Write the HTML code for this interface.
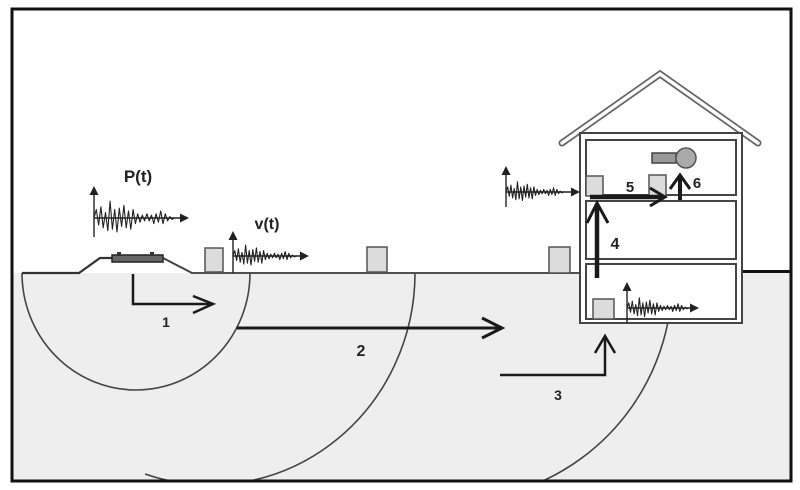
<!DOCTYPE html>
<html><head><meta charset="utf-8"><style>
html,body{margin:0;padding:0;background:#fff;}
svg{display:block;}
text{font-family:"Liberation Sans",Arial,sans-serif;font-weight:bold;fill:#222;}
</style></head><body>
<svg width="800" height="490" viewBox="0 0 800 490" xmlns="http://www.w3.org/2000/svg">
<defs>
<clipPath id="fr"><rect x="13" y="10" width="777" height="470"/></clipPath>
</defs>
<rect x="0" y="0" width="800" height="490" fill="#fff"/>
<g clip-path="url(#fr)">
<rect x="13" y="273" width="777" height="210" fill="#eeeeee"/>
<!-- arcs -->
<g fill="none" stroke="#444" stroke-width="1.6">
<path d="M22 273 A114 117 0 0 0 250 273"/>
<path d="M415 273 A205 212 0 0 1 145 474"/>
<path d="M672 273 A222 222 0 0 1 520 490"/>
</g>
</g>
<!-- ground line + embankment -->
<polyline points="22,273 79,273 100,258 112,258" fill="none" stroke="#333" stroke-width="2.2"/>
<polyline points="163,258 192,273 580,273" fill="none" stroke="#444" stroke-width="2"/>
<line x1="192" y1="273" x2="580" y2="273" stroke="#555" stroke-width="1.6"/>
<rect x="112" y="255" width="51" height="7" fill="#666" stroke="#222" stroke-width="1.5"/>
<rect x="117" y="252" width="4" height="3" fill="#333"/>
<rect x="150" y="252" width="4" height="3" fill="#333"/>
<line x1="742" y1="271.5" x2="790" y2="271.5" stroke="#111" stroke-width="3"/>
<!-- small buildings -->
<g fill="#dcdcdc" stroke="#555" stroke-width="1.5">
<rect x="205" y="248" width="18" height="24"/>
<rect x="367" y="247" width="20" height="25"/>
<rect x="549" y="247" width="21" height="26"/>
</g>
<!-- roof -->
<polyline points="562,143 660,74 758,143" fill="none" stroke="#666" stroke-width="7" stroke-linejoin="miter" stroke-linecap="round"/>
<polyline points="562,143 660,74 758,143" fill="none" stroke="#fff" stroke-width="3.5" stroke-linejoin="miter" stroke-linecap="round"/>
<!-- house -->
<rect x="580" y="133" width="162" height="190" fill="#fff" stroke="#444" stroke-width="2"/>
<g fill="#fff" stroke="#444" stroke-width="2">
<rect x="586" y="140" width="150" height="55"/>
<rect x="586" y="201" width="150" height="58"/>
<rect x="586" y="264" width="150" height="55"/>
</g>
<g fill="#dcdcdc" stroke="#555" stroke-width="1.5">
<rect x="586" y="176" width="17" height="20"/>
<rect x="649" y="175" width="17" height="22"/>
<rect x="593" y="299" width="21" height="20"/>
</g>
<!-- hair dryer -->
<rect x="652" y="153" width="24" height="10" fill="#999" stroke="#444" stroke-width="1.5"/>
<circle cx="686" cy="158" r="10" fill="#aaa" stroke="#555" stroke-width="1.5"/>
<!-- arrows -->
<g fill="none" stroke="#1a1a1a" stroke-linecap="butt" stroke-linejoin="miter">
<polyline points="133,274 133,304 212,304" stroke-width="2.5"/>
<polyline points="193,296 213,304 193,313" stroke-width="2.5"/>
<line x1="237" y1="328" x2="501" y2="328" stroke-width="3"/>
<polyline points="482,318 502,328 482,338" stroke-width="3"/>
<polyline points="500,375 605,375 605,337" stroke-width="2.5"/>
<polyline points="595,353 605,336 615,353" stroke-width="2.5"/>
<line x1="597" y1="278" x2="597" y2="204" stroke-width="4.5"/>
<polyline points="587,223 597,203 608,223" stroke-width="3"/>
<line x1="590" y1="197" x2="663" y2="197" stroke-width="4.5"/>
<polyline points="650,188 665,197 650,206" stroke-width="3"/>
<line x1="680" y1="200" x2="680" y2="177" stroke-width="4"/>
<polyline points="670,189 680,175 690,189" stroke-width="3"/>
</g>
<!-- signals -->
<g stroke="#222" fill="none" stroke-width="1.4">
<line x1="94" y1="237" x2="94" y2="190"/>
<line x1="94" y1="218" x2="184" y2="218"/>
<line x1="233" y1="273" x2="233" y2="235"/>
<line x1="233" y1="256" x2="304" y2="256"/>
<line x1="506" y1="207" x2="506" y2="170"/>
<line x1="506" y1="192" x2="575" y2="192"/>
<line x1="627" y1="323" x2="627" y2="286"/>
<line x1="627" y1="308" x2="694" y2="308"/>
</g>
<g fill="#222">
<polygon points="94,186 89.5,195 98.5,195"/>
<polygon points="189,218 180,213.5 180,222.5"/>
<polygon points="233,231 228.5,240 237.5,240"/>
<polygon points="309,256 300,251.5 300,260.5"/>
<polygon points="506,166 501.5,175 510.5,175"/>
<polygon points="580,192 571,187.5 571,196.5"/>
<polygon points="627,282 622.5,291 631.5,291"/>
<polygon points="699,308 690,303.5 690,312.5"/>
</g>
<g fill="none" stroke="#222" stroke-width="1.1" stroke-linejoin="round">
<polyline transform="translate(94,218) scale(1.15,1.4)" vector-effect="non-scaling-stroke" points="0,0 2,-6 4,5 6,-8 8,7 10,-4 12,9 14,-12 16,8 18,-6 20,10 22,-7 24,6 26,-9 28,7 30,-5 32,8 34,-6 36,4 38,-3 40,3 42,-2 44,2 46,-3 48,2 50,-2 52,4 54,-3 56,3 58,-5 60,4 62,-3 64,2 66,-1 68,1 70,0"/>
<polyline transform="translate(233,256) scale(0.9,0.9)" vector-effect="non-scaling-stroke" points="0,0 2,-6 4,5 6,-8 8,7 10,-4 12,9 14,-12 16,8 18,-6 20,10 22,-7 24,6 26,-9 28,7 30,-5 32,8 34,-6 36,4 38,-3 40,3 42,-2 44,2 46,-3 48,2 50,-2 52,4 54,-3 56,3 58,-5 60,4 62,-3 64,2 66,-1 68,1 70,0"/>
<polyline transform="translate(506,192) scale(0.82,0.85)" vector-effect="non-scaling-stroke" points="0,0 2,-6 4,5 6,-8 8,7 10,-4 12,9 14,-12 16,8 18,-6 20,10 22,-7 24,6 26,-9 28,7 30,-5 32,8 34,-6 36,4 38,-3 40,3 42,-2 44,2 46,-3 48,2 50,-2 52,4 54,-3 56,3 58,-5 60,4 62,-3 64,2 66,-1 68,1 70,0"/>
<polyline transform="translate(627,308) scale(0.88,0.85)" vector-effect="non-scaling-stroke" points="0,0 2,-6 4,5 6,-8 8,7 10,-4 12,9 14,-12 16,8 18,-6 20,10 22,-7 24,6 26,-9 28,7 30,-5 32,8 34,-6 36,4 38,-3 40,3 42,-2 44,2 46,-3 48,2 50,-2 52,4 54,-3 56,3 58,-5 60,4 62,-3 64,2 66,-1 68,1 70,0"/>
</g>
<!-- labels -->
<text x="138" y="182" font-size="17" text-anchor="middle">P(t)</text>
<text x="267" y="229" font-size="16" text-anchor="middle">v(t)</text>
<text x="166" y="327" font-size="14" text-anchor="middle">1</text>
<text x="361" y="356" font-size="16" text-anchor="middle">2</text>
<text x="558" y="400" font-size="14" text-anchor="middle">3</text>
<text x="615" y="249" font-size="16" text-anchor="middle">4</text>
<text x="630" y="192" font-size="15" text-anchor="middle">5</text>
<text x="697" y="188" font-size="15" text-anchor="middle">6</text>
<!-- frame -->
<rect x="12" y="9" width="779" height="472" fill="none" stroke="#111" stroke-width="3"/>
</svg>
</body></html>
